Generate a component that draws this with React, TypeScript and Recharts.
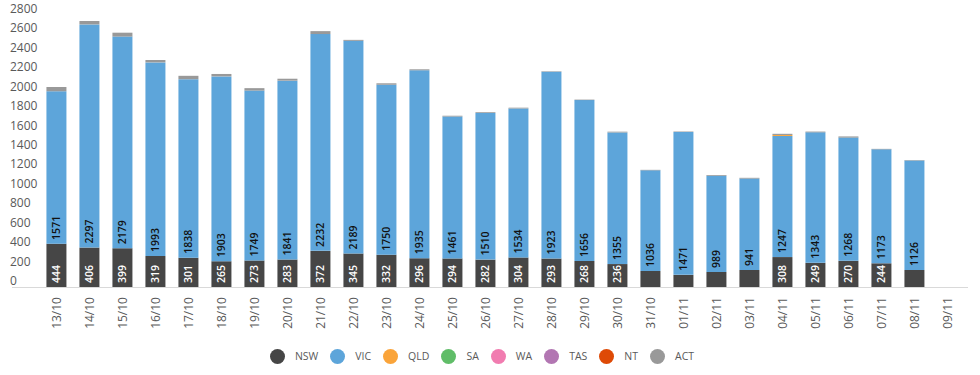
import React from 'react';
import { BarChart, Bar, XAxis, YAxis, Legend, LabelList } from 'recharts';

const dates = [
    '13/10', '14/10', '15/10', '16/10', '17/10', '18/10', '19/10', '20/10', '21/10', '22/10',
    '23/10', '24/10', '25/10', '26/10', '27/10', '28/10', '29/10', '30/10', '31/10',
    '01/11', '02/11', '03/11', '04/11', '05/11', '06/11', '07/11', '08/11', '09/11',
];

const nsw = [444, 406, 399, 319, 301, 265, 273, 283, 372, 345, 332, 296, 294, 282, 304, 293, 268, 236, 165, 125, 155, 175, 308, 249, 270, 244, 175, 0];
const vic = [1571, 2297, 2179, 1993, 1838, 1903, 1749, 1841, 2232, 2189, 1750, 1935, 1461, 1510, 1534, 1923, 1656, 1355, 1036, 1471, 989, 941, 1247, 1343, 1268, 1173, 1126, 0];
const qld = [0, 0, 0, 0, 0, 0, 0, 0, 0, 0, 0, 0, 0, 0, 0, 0, 0, 0, 0, 0, 0, 0, 10, 0, 0, 0, 0, 0];
const sa = [0, 0, 0, 0, 0, 0, 0, 0, 0, 0, 0, 0, 0, 0, 0, 0, 0, 0, 0, 0, 0, 0, 0, 0, 0, 0, 0, 0];
const wa = [0, 0, 0, 0, 0, 0, 0, 0, 0, 0, 0, 0, 0, 0, 0, 0, 0, 0, 0, 0, 0, 0, 0, 0, 0, 0, 0, 0];
const tas = [0, 0, 0, 0, 0, 0, 0, 0, 0, 0, 0, 0, 0, 0, 0, 0, 0, 0, 0, 0, 0, 0, 0, 0, 0, 0, 0, 0];
const nt = [0, 0, 0, 0, 0, 0, 0, 0, 0, 0, 0, 0, 0, 0, 0, 0, 0, 0, 0, 0, 0, 0, 0, 0, 0, 0, 0, 0];
const act = [45, 35, 40, 25, 35, 25, 25, 20, 30, 10, 15, 10, 8, 8, 8, 5, 5, 8, 5, 5, 8, 8, 12, 8, 12, 5, 5, 0];

const yTicks = [0, 200, 400, 600, 800, 1000, 1200, 1400, 1600, 1800, 2000, 2200, 2400, 2600, 2800];

const series = [
    { key: 'NSW', values: nsw, color: '#464646' },
    { key: 'VIC', values: vic, color: '#5DA5DA' },
    { key: 'QLD', values: qld, color: '#FAA43A' },
    { key: 'SA', values: sa, color: '#60BD68' },
    { key: 'WA', values: wa, color: '#F17CB0' },
    { key: 'TAS', values: tas, color: '#B276B2' },
    { key: 'NT', values: nt, color: '#DE4A06' },
    { key: 'ACT', values: act, color: '#999999' },
];

const data = dates.map((d, i) => {
    const row: any = { date: d };
    series.forEach((s) => {
        row[s.key] = s.values[i];
    });
    return row;
});

const FONT = '"Open Sans", sans-serif';

// 柱内底部竖排标签，放不下就不画
const baseLabel = (fill: string) => (props: any) => {
    const { x, y, width, height, value } = props;
    if (!value) return null;
    const textLen = String(value).length * 5.8;
    if (height < textLen + 4) return null;
    const cx = x + width / 2;
    const by = y + height - 4;
    return (
        <text
            x={cx}
            y={by}
            transform={`rotate(-90, ${cx}, ${by})`}
            textAnchor="start"
            dy="0.36em"
            fill={fill}
            fontSize={10.5}
            fontWeight={600}
            fontFamily={FONT}
        >
            {value}
        </text>
    );
};

const XTick = (props: any) => {
    const { x, y, payload } = props;
    const ty = y + 2;
    return (
        <text
            x={x}
            y={ty}
            transform={`rotate(-90, ${x}, ${ty})`}
            textAnchor="end"
            dy="0.36em"
            fill="#595959"
            fontSize={12}
            fontFamily={FONT}
        >
            {payload.value}
        </text>
    );
};

const YTick = (props: any) => {
    const { y, payload } = props;
    return (
        <text x={10} y={y - 2} textAnchor="start" fill="#595959" fontSize={12} fontFamily={FONT}>
            {payload.value}
        </text>
    );
};

const renderLegend = () => (
    <div
        style={{
            height: 30,
            display: 'flex',
            justifyContent: 'center',
            alignItems: 'flex-start',
            gap: 12,
            paddingTop: 4,
            boxSizing: 'border-box',
            fontFamily: FONT,
            fontSize: 10.5,
            color: '#595959',
        }}
    >
        {series.map((s) => (
            <div key={s.key} style={{ display: 'flex', alignItems: 'center', height: 14 }}>
                <div style={{ width: 15, height: 15, borderRadius: '50%', backgroundColor: s.color, marginRight: 10 }} />
                <span>{s.key}</span>
            </div>
        ))}
    </div>
);

export default function App() {
    return (
        <div style={{ position: 'relative', width: 980, height: 375, background: '#fff' }}>
            <style>{`body{margin:0}`}</style>
            <BarChart
                width={980}
                height={375}
                data={data}
                margin={{ top: 15, right: 16, left: 0, bottom: 0 }}
                barCategoryGap="19.5%"
            >
                <XAxis
                    dataKey="date"
                    axisLine={false}
                    tickLine={false}
                    interval={0}
                    height={58}
                    tick={<XTick />}
                />
                <YAxis
                    domain={[0, 2800]}
                    ticks={yTicks}
                    axisLine={false}
                    tickLine={false}
                    width={40}
                    interval={0}
                    tick={<YTick />}
                />
                <Legend verticalAlign="bottom" content={renderLegend} />
                {series.map((s) => (
                    <Bar key={s.key} dataKey={s.key} stackId="a" fill={s.color} isAnimationActive={false}>
                        {s.key === 'NSW' && <LabelList dataKey="NSW" content={baseLabel('#ffffff')} />}
                        {s.key === 'VIC' && <LabelList dataKey="VIC" content={baseLabel('#111111')} />}
                    </Bar>
                ))}
            </BarChart>
            <div style={{ position: 'absolute', left: 12, top: 287, width: 956, height: 1, background: '#d9d9d9' }} />
        </div>
    );
}
